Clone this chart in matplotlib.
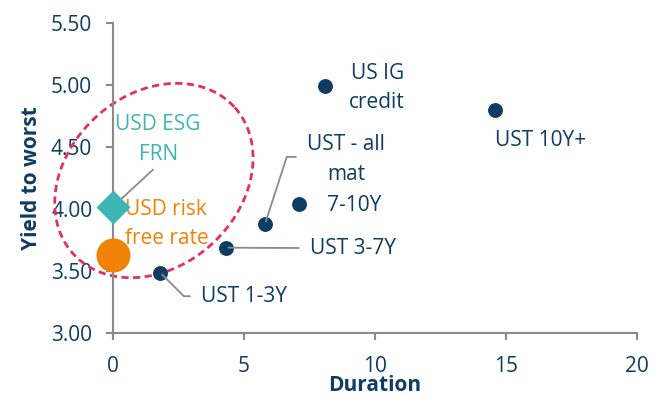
import numpy as np
import matplotlib.pyplot as plt

plt.rcParams['font.family'] = ['Open Sans', 'DejaVu Sans']

# index points (duration, yield to worst)
labels = ['US IG\ncredit', 'UST 10Y+', 'UST - all\nmat', '7-10Y', 'UST 3-7Y', 'UST 1-3Y']
duration = [8.1, 14.6, 5.8, 7.1, 4.3, 1.8]
ytw = [4.99, 4.80, 3.88, 4.04, 3.69, 3.49]

esg_label = 'USD ESG\nFRN'
esg_dur = [0.0]
esg_ytw = [4.02]

rf_label = 'USD risk\nfree rate'
rf_dur = [0.0]
rf_ytw = [3.63]

navy = '#0f3c63'
teal = '#3db5b4'
orange = '#f08205'
red = '#e3305f'
grey = '#8a8a8a'

fig = plt.figure(figsize=(6.59, 3.97), dpi=100)
ax = fig.add_axes([0.1715, 0.16, 0.795, 0.783])

ax.scatter(duration, ytw, s=115, color=navy, zorder=3, linewidths=0, clip_on=False)
ax.scatter(esg_dur, esg_ytw, s=300, marker='D', color=teal, zorder=4,
           linewidths=0, clip_on=False)
ax.scatter(rf_dur, rf_ytw, s=600, color=orange, zorder=4, linewidths=0, clip_on=False)

ax.set_xlim(0, 20)
ax.set_ylim(3.0, 5.5)
ax.set_xticks([0, 5, 10, 15, 20])
ax.set_yticks([3.0, 3.5, 4.0, 4.5, 5.0, 5.5])
ax.set_yticklabels([f'{v:.2f}' for v in ax.get_yticks()])

for s in ['top', 'right']:
    ax.spines[s].set_visible(False)
for s in ['left', 'bottom']:
    ax.spines[s].set_color(grey)
    ax.spines[s].set_linewidth(1.5)
ax.tick_params(colors=grey, labelcolor=navy, labelsize=15, width=1.5, length=5)
ax.tick_params(axis='y', pad=10)
ax.tick_params(axis='x', pad=11)

ax.set_xlabel('Duration', fontsize=15, fontweight='bold', color=navy)
ax.set_ylabel('Yield to worst', fontsize=15, fontweight='bold', color=navy)
ax.xaxis.set_label_coords(0.5, -0.135)
ax.yaxis.set_label_coords(-0.135, 0.5)

fs = 15
ls = 1.55
line = dict(arrowstyle='-', color=grey, lw=1.3, shrinkA=4, shrinkB=2)

# US IG credit
ax.text(10.08, 4.975, labels[0], ha='center', va='center', fontsize=fs,
        color=navy, linespacing=ls)
# UST 10Y+
ax.text(14.58, 4.555, labels[1], ha='left', va='center', fontsize=fs, color=navy)
# UST - all mat
ax.annotate(labels[2], xy=(duration[2], ytw[2]), xytext=(8.89, 4.40),
            ha='center', va='center', fontsize=fs, color=navy, linespacing=ls,
            arrowprops=dict(line, relpos=(0, 0.55), shrinkA=6,
                            connectionstyle='angle,angleA=0,angleB=72,rad=0'))
# 7-10Y
ax.text(8.17, 4.03, labels[3], ha='left', va='center', fontsize=fs, color=navy)
# UST 3-7Y
ax.annotate(labels[4], xy=(duration[4], ytw[4]), xytext=(7.52, 3.687),
            ha='left', va='center', fontsize=fs, color=navy,
            arrowprops=dict(line, relpos=(0, 0.5), shrinkA=6))
# UST 1-3Y
ax.annotate(labels[5], xy=(duration[5], ytw[5]), xytext=(3.36, 3.30),
            ha='left', va='center', fontsize=fs, color=navy,
            arrowprops=dict(line, relpos=(0, 0.5), shrinkA=6,
                            connectionstyle='angle,angleA=0,angleB=-45,rad=0'))
# ESG FRN
ax.annotate(esg_label, xy=(esg_dur[0], esg_ytw[0]), xytext=(1.72, 4.56),
            ha='center', va='center', fontsize=fs, color=teal, linespacing=ls,
            arrowprops=dict(line, relpos=(0.5, 0), shrinkA=2))
# risk free rate
ax.text(0.46, 3.88, rf_label, ha='left', va='center', fontsize=fs,
        color=orange, linespacing=ls)

# dashed tilted ellipse drawn in pixel space, converted to data units
px_x = ax.bbox.width / 20
px_y = ax.bbox.height / 2.5
cx, cy = 1.56, 4.23
a, b, th = 109, 86, np.radians(42.5)
t = np.linspace(0, 2 * np.pi, 300)
ex = cx + (a * np.cos(th) * np.cos(t) - b * np.sin(th) * np.sin(t)) / px_x
ey = cy + (a * np.sin(th) * np.cos(t) + b * np.cos(th) * np.sin(t)) / px_y
ax.plot(ex, ey, color=red, lw=2, dashes=(2.6, 1.6), clip_on=False, zorder=2)

fig.savefig('out.png', dpi=100)
